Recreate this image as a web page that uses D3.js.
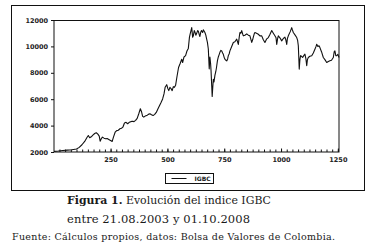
<!DOCTYPE html>
<html>
<head>
<meta charset="utf-8">
<script src="https://cdnjs.cloudflare.com/ajax/libs/d3/7.8.5/d3.min.js"></script>
<style>
  body { margin: 0; background: #fff; }
  svg { display: block; }
  .tick text { font-family: "DejaVu Sans", sans-serif; font-weight: bold; font-size: 6.5px; fill: #222; }
</style>
</head>
<body>
<div id="chart"></div>
<script>
// trading day index (21.08.2003 = 1) and IGBC close
var days = [1, 20, 40, 60, 80, 100, 112, 124, 136, 146, 152, 158, 165, 172, 180, 187, 194, 200, 204, 209,
  214, 221, 228, 235, 242, 250, 257, 263, 270, 277, 284, 291, 298, 304, 311, 318, 325, 332, 339, 346,
  353, 360, 367, 374, 381, 386, 391, 396, 402, 409, 416, 423, 430, 437, 444, 451, 458, 465, 472, 479,
  485, 490, 497, 502, 506, 511, 516, 521, 526, 531, 536, 542, 549, 556, 563, 567, 573, 580, 586, 592,
  597, 601, 607, 611, 614, 618, 621, 625, 628, 633, 636, 640, 643, 647, 650, 655, 658, 662, 665, 669,
  672, 676, 680, 684, 687, 690, 692, 695, 697, 700, 702, 705, 709, 713, 716, 720, 724, 728, 731, 735,
  739, 743, 746, 750, 753, 757, 761, 765, 768, 772, 775, 782, 790, 797, 805, 812, 816, 819, 823, 827,
  831, 834, 841, 849, 856, 863, 867, 871, 875, 878, 882, 885, 892, 900, 907, 915, 922, 929, 936, 944,
  951, 959, 966, 973, 978, 981, 985, 988, 995, 1003, 1010, 1017, 1021, 1025, 1028, 1032, 1040, 1047, 1050, 1054,
  1062, 1069, 1073, 1076, 1078, 1080, 1083, 1086, 1090, 1095, 1100, 1105, 1109, 1113, 1116, 1120, 1127, 1135, 1142, 1149,
  1154, 1157, 1162, 1167, 1171, 1178, 1186, 1193, 1201, 1208, 1215, 1222, 1230, 1234, 1237, 1241, 1245, 1250, 1255];
var igbc = [2050, 2070, 2110, 2140, 2170, 2230, 2350, 2550, 2800, 3100, 3250, 3080, 3150, 3280, 3400, 3460, 3350, 3200, 2820, 3000,
  3130, 3050, 3000, 3020, 2950, 2870, 2800, 3150, 3500, 3620, 3650, 3760, 3800, 3880, 4200, 4250, 4140, 4250, 4300, 4330,
  4300, 4400, 4550, 4900, 5280, 5050, 4700, 4640, 4720, 4760, 4850, 4900, 4820, 4760, 4850, 5000, 5250, 5500, 5750, 6020,
  6400, 6900, 7100, 6800, 6650, 6900, 6800, 6650, 6950, 6900, 7050, 7700, 8400, 8700, 9030, 8780, 9200, 9300, 9650, 9850,
  10700, 11000, 11420, 10700, 10800, 11200, 11100, 10850, 10950, 11200, 11150, 10900, 10750, 11100, 11200, 11050, 11250, 11150, 11050, 10850,
  10600, 10300, 9800, 8300, 9200, 8700, 8150, 7000, 6200, 7000, 7500, 7300, 7800, 8100, 8400, 8900, 9200, 9400, 9550, 9700,
  9650, 9500, 9400, 9150, 9030, 8950, 8900, 9050, 9300, 9450, 9660, 9950, 10300, 10350, 10550, 10150, 10700, 11050, 11000, 11200,
  10950, 10800, 10850, 10950, 10850, 10800, 10550, 10300, 10500, 10700, 10950, 11050, 11000, 10920, 10800, 10800, 10500, 10300, 10550, 10670,
  10900, 11200, 11000, 10800, 10650, 10150, 10600, 10800, 10650, 10420, 10600, 10700, 10500, 10150, 10600, 10800, 11100, 11420, 11250, 11050,
  10850, 10670, 10450, 10050, 9200, 8280, 9000, 9300, 9250, 9160, 9300, 9410, 9100, 8530, 9000, 9160, 9250, 9290, 9500, 9790,
  10000, 10160, 10000, 10050, 9910, 9600, 9160, 9000, 8780, 8850, 8910, 8950, 9160, 9600, 9660, 9300, 9290, 9400, 9160];

var yTicks = [2000, 4000, 6000, 8000, 10000, 12000];
var xTicks = [250, 500, 750, 1000, 1250];
var legendLabel = "IGBC";
var captionBold = "Figura 1.";
var captionRest = " Evolución del indice IGBC";
var captionLine2 = "entre 21.08.2003 y 01.10.2008";
var sourceLine = "Fuente: Cálculos propios, datos: Bolsa de Valores de Colombia.";

var W = 373, H = 247;
var serif = "'DejaVu Serif', 'Liberation Serif', serif";
var svg = d3.select("#chart").append("svg").attr("width", W).attr("height", H);
svg.append("rect").attr("width", W).attr("height", H).attr("fill", "#fff");

// outer frame
svg.append("rect").attr("x", 11.5).attr("y", 5.5).attr("width", 353).attr("height", 185)
  .attr("fill", "none").attr("stroke", "#111").attr("stroke-width", 1);

var plot = {left: 54, top: 20, right: 339, bottom: 152};

var x = d3.scaleLinear().domain([1, 1255]).range([plot.left, plot.right]);
var y = d3.scaleLinear().domain([2000, 12000]).range([plot.bottom, plot.top]);

// y axis
var yAxis = svg.append("g").attr("transform", "translate(" + plot.left + ",0)")
  .call(d3.axisLeft(y).tickValues(yTicks).tickSize(3).tickPadding(3).tickFormat(d3.format("d")));
yAxis.select(".domain").remove();
yAxis.selectAll("line").attr("stroke", "#111");

// x axis, minor ticks every 25 pointing inward
var xMinor = svg.append("g").attr("transform", "translate(0," + plot.bottom + ")")
  .call(d3.axisBottom(x).tickValues(d3.range(25, 1255, 25)).tickSize(-2.5).tickFormat(""));
xMinor.select(".domain").remove();
xMinor.selectAll("line").attr("stroke", "#111");

var xAxis = svg.append("g").attr("transform", "translate(0," + plot.bottom + ")")
  .call(d3.axisBottom(x).tickValues(xTicks).tickSize(-3.5).tickPadding(5).tickFormat(d3.format("d")));
xAxis.select(".domain").remove();
xAxis.selectAll("line").attr("stroke", "#111");

// plot box
svg.append("rect").attr("x", plot.left).attr("y", plot.top + 0.5)
  .attr("width", plot.right - plot.left).attr("height", plot.bottom - plot.top - 0.5)
  .attr("fill", "none").attr("stroke", "#111").attr("stroke-width", 1);

// the series
var data = days.map(function(d, i) { return {day: d, value: igbc[i]}; });
svg.append("path")
  .datum(data)
  .attr("fill", "none")
  .attr("stroke", "#111")
  .attr("stroke-width", 1.1)
  .attr("stroke-linejoin", "round")
  .attr("d", d3.line()
    .x(function(d) { return x(d.day); })
    .y(function(d) { return y(d.value); })
  );

// legend
var lg = svg.append("g").attr("transform", "translate(165.5,173.5)");
lg.append("rect").attr("width", 48).attr("height", 10).attr("fill", "#fff").attr("stroke", "#111");
lg.append("line").attr("x1", 6).attr("x2", 21).attr("y1", 5).attr("y2", 5).attr("stroke", "#111");
lg.append("text").attr("x", 29).attr("y", 7.5).text(legendLabel)
  .attr("font-family", "'DejaVu Sans', sans-serif").attr("font-weight", "bold").attr("font-size", 6).attr("fill", "#222");

// caption
var t1 = svg.append("text").attr("x", 67).attr("y", 204)
  .attr("font-family", serif).attr("font-size", 11.5).attr("fill", "#1a1a1a")
  .attr("textLength", 204).attr("lengthAdjust", "spacingAndGlyphs");
t1.append("tspan").attr("font-weight", "bold").text(captionBold);
t1.append("tspan").text(captionRest);
svg.append("text").attr("x", 67).attr("y", 223)
  .attr("font-family", serif).attr("font-size", 11.5).attr("fill", "#1a1a1a")
  .attr("textLength", 183).attr("lengthAdjust", "spacing").text(captionLine2);
svg.append("text").attr("x", 12).attr("y", 240)
  .attr("font-family", serif).attr("font-size", 9.5).attr("fill", "#1a1a1a")
  .attr("textLength", 323).attr("lengthAdjust", "spacing").text(sourceLine);
</script>
</body>
</html>
